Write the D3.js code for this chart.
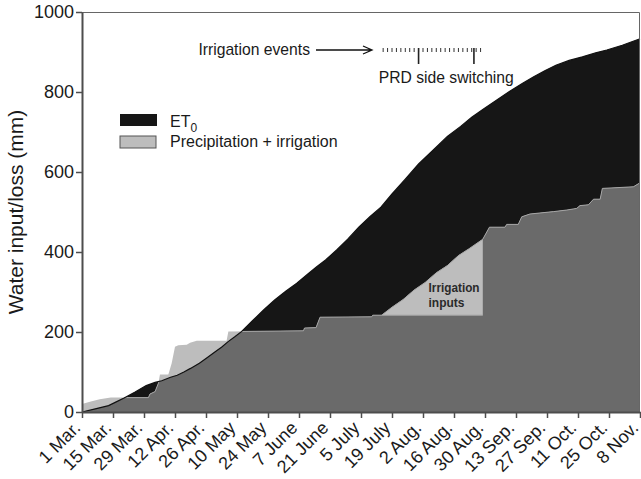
<!DOCTYPE html>
<html>
<head>
<meta charset="utf-8">
<script src="https://cdn.jsdelivr.net/npm/d3@7"></script>
<style>
    body { margin: 0; background: #fff; }
    svg { font-family: "Liberation Sans", Arial, sans-serif; }
    .axis text { font-size: 18px; fill: #1a1a1a; }
    .axis path, .axis line { stroke: #4d4d4d; }
</style>
</head>
<body>
<div id="chart"></div>
<script>

// days after 1 Mar. (start of the season)
const et0Days   = [0, 6, 12, 15, 19, 24, 29, 33, 36, 40, 43, 46, 49, 53, 56, 60, 63, 66, 69, 72,
                   77, 82, 87, 92, 97, 102, 106, 110, 115, 120, 125, 130, 135, 140, 146, 152, 159, 165, 171, 176,
                   181, 187, 193, 199, 204, 209, 214, 220, 226, 232, 237, 244, 252];
const et0Values = [0, 8, 16, 24, 35, 50, 66, 74, 78, 87, 92, 100, 109, 122, 134, 150, 162, 176, 188, 201,
                   228, 255, 280, 302, 322, 345, 363, 380, 405, 432, 462, 488, 512, 545, 582, 620, 657, 689, 714, 737,
                   756, 779, 801, 822, 838, 853, 867, 879, 888, 898, 905, 917, 933];

const piDays   = [0, 4, 8, 13, 30, 30.7, 33, 34.5, 35.2, 39, 40.5, 42, 43.5, 47.3, 48.8, 51.8, 65.3, 66.1, 100, 100.5,
                  105.7, 107.5, 130.8, 131.3, 135.3, 140, 145, 150, 155, 160, 165, 170, 175, 181, 184, 191, 191.8, 197, 198.6, 202.3,
                  213, 219, 223.4, 224.9, 228.7, 231, 234, 235, 249, 252];
const piValues = [20, 26, 32, 36, 36, 45, 51, 72, 94, 94, 122, 163, 167, 168, 173, 178, 178, 201, 203, 210,
                  211, 237, 238, 242, 242, 262, 281, 305, 324, 348, 366, 391, 409, 432, 462, 462, 469, 469, 488, 495,
                  501, 505, 509, 516, 518, 532, 532, 559, 563, 573];

// irrigation period (days) and events
const irrigStart = 135.3;
const irrigEnd = 181;
const irrigEventDays = [136, 138, 140, 142, 144, 146, 148, 150, 152, 154, 156, 158, 160, 162, 164, 166, 168, 170, 172, 174, 176, 178, 180];
const switchDays = [152, 177];

const tickDays   = [0, 14, 28, 42, 56, 70, 84, 98, 112, 126, 140, 154, 168, 182, 196, 210, 224, 238, 252];
const tickLabels = ["1 Mar.", "15 Mar.", "29 Mar.", "12 Apr.", "26 Apr.", "10 May", "24 May", "7 June", "21 June", "5 July",
                    "19 July", "2 Aug.", "16 Aug.", "30 Aug.", "13 Sep.", "27 Sep.", "11 Oct.", "25 Oct.", "8 Nov."];
const yTicks = [0, 200, 400, 600, 800, 1000];

const seasonStart = Date.UTC(2007, 2, 1);
let toDate = function(d) { return new Date(seasonStart + d * 864e5) };


class WaterVis {

    constructor(_parentElement) {
        this.parentElement = _parentElement;
        this.initVis();
    }

    initVis() {
        let vis = this;

        vis.margin = { top: 12, right: 1, bottom: 67, left: 82 };
        vis.width = 641 - vis.margin.left - vis.margin.right;
        vis.height = 479 - vis.margin.top - vis.margin.bottom;

        vis.svg = d3.select("#" + vis.parentElement).append("svg")
            .attr("width", 641)
            .attr("height", 479)
            .append("g")
            .attr("transform", "translate(" + vis.margin.left + "," + vis.margin.top + ")");

        vis.x = d3.scaleUtc()
            .domain([toDate(0), toDate(252)])
            .range([0, vis.width]);

        vis.y = d3.scaleLinear()
            .domain([0, 1000])
            .range([vis.height, 0]);

        vis.wrangleData();
    }

    wrangleData() {
        let vis = this;

        vis.et0 = et0Days.map((d, i) => ({ date: toDate(d), value: et0Values[i] }));
        vis.pi = piDays.map((d, i) => ({ date: toDate(d), day: d, value: piValues[i] }));

        // rain only level during the irrigation period
        vis.base = vis.pi.find(d => d.day >= irrigStart).value;
        vis.irrig = vis.pi.filter(d => d.day >= irrigStart && d.day <= irrigEnd);

        vis.updateVis();
    }

    updateVis() {
        let vis = this;

        let area = d3.area()
            .x(d => vis.x(d.date))
            .y0(vis.height)
            .y1(d => vis.y(d.value));

        let line = d3.line()
            .x(d => vis.x(d.date))
            .y(d => vis.y(d.value));

        vis.svg.append("defs")
            .append("clipPath")
            .attr("id", "et0-clip")
            .append("path")
            .attr("d", area(vis.et0));

        // ET0 (black)
        vis.svg.append("path")
            .attr("d", area(vis.et0))
            .attr("fill", "#161616");

        // precipitation + irrigation (light grey)
        vis.svg.append("path")
            .attr("d", area(vis.pi))
            .attr("fill", "#bdbdbd");

        // overlap (dark grey)
        vis.svg.append("path")
            .attr("d", area(vis.pi))
            .attr("clip-path", "url(#et0-clip)")
            .attr("fill", "#6a6a6a");

        // irrigation inputs wedge
        let wedge = d3.area()
            .x(d => vis.x(d.date))
            .y0(vis.y(vis.base))
            .y1(d => vis.y(d.value));

        vis.svg.append("path")
            .attr("d", wedge(vis.irrig))
            .attr("fill", "#bdbdbd");

        vis.svg.append("path")
            .attr("d", line(vis.pi))
            .attr("clip-path", "url(#et0-clip)")
            .attr("fill", "none")
            .attr("stroke", "#a5a5a5")
            .attr("stroke-width", 1);

        vis.svg.append("line")
            .attr("x1", vis.x(toDate(irrigStart)))
            .attr("x2", vis.x(toDate(irrigEnd)))
            .attr("y1", vis.y(vis.base))
            .attr("y2", vis.y(vis.base))
            .attr("stroke", "#a5a5a5");

        vis.svg.append("path")
            .attr("d", line(vis.et0))
            .attr("fill", "none")
            .attr("stroke", "#111")
            .attr("stroke-width", 1.2);

        // condensed bold label inside the wedge
        let ix = vis.x(toDate(156.5));
        vis.svg.append("text")
            .attr("x", ix)
            .attr("y", vis.y(299))
            .attr("font-weight", "bold")
            .attr("font-size", 13.5)
            .attr("fill", "#2a2a2a")
            .attr("textLength", 51)
            .attr("lengthAdjust", "spacingAndGlyphs")
            .text("Irrigation");
        vis.svg.append("text")
            .attr("x", ix)
            .attr("y", vis.y(299) + 15)
            .attr("font-weight", "bold")
            .attr("font-size", 13.5)
            .attr("fill", "#2a2a2a")
            .attr("textLength", 36)
            .attr("lengthAdjust", "spacingAndGlyphs")
            .text("inputs");

        // frame
        vis.svg.append("path")
            .attr("d", "M0,0.5H" + (vis.width - 0.5) + "V" + vis.height)
            .attr("fill", "none")
            .attr("stroke", "#666")
            .attr("stroke-width", 1);

        // axes
        vis.xAxis = d3.axisBottom(vis.x)
            .tickValues(tickDays.map(toDate))
            .tickFormat((d, i) => tickLabels[i])
            .tickSize(6)
            .tickSizeOuter(0);

        vis.yAxis = d3.axisLeft(vis.y)
            .tickValues(yTicks)
            .tickFormat(d3.format("d"))
            .tickSize(6)
            .tickSizeOuter(0);

        let xg = vis.svg.append("g")
            .attr("class", "x-axis axis")
            .attr("transform", "translate(0," + vis.height + ")")
            .call(vis.xAxis);
        xg.select(".domain").attr("stroke-width", 2);
        xg.selectAll(".tick line").attr("stroke-width", 1.5);
        xg.selectAll(".tick text")
            .attr("text-anchor", "end")
            .attr("dy", null)
            .attr("y", null)
            .attr("transform", "translate(-1,17) rotate(-45)");

        let yg = vis.svg.append("g")
            .attr("class", "y-axis axis")
            .call(vis.yAxis);
        yg.select(".domain").attr("stroke-width", 2);
        yg.selectAll(".tick line").attr("stroke-width", 1.5);
        yg.selectAll(".tick text").attr("x", -8);

        // axis title
        vis.svg.append("text")
            .attr("transform", "translate(" + (-59) + "," + (vis.height / 2) + ") rotate(-90)")
            .attr("text-anchor", "middle")
            .attr("font-size", 21)
            .attr("fill", "#1a1a1a")
            .text("Water input/loss (mm)");

        // legend
        let legend = vis.svg.append("g")
            .attr("transform", "translate(38,102)");
        legend.append("rect")
            .attr("width", 37).attr("height", 12)
            .attr("fill", "#161616");
        legend.append("rect")
            .attr("y", 22)
            .attr("width", 36).attr("height", 12)
            .attr("fill", "#bdbdbd")
            .attr("stroke", "#555");
        let et0Label = legend.append("text")
            .attr("x", 50).attr("y", 12.5)
            .attr("font-size", 16)
            .attr("fill", "#1a1a1a");
        et0Label.append("tspan").text("ET");
        et0Label.append("tspan").attr("dy", 5).attr("font-size", 12).text("0");
        legend.append("text")
            .attr("x", 50).attr("y", 33)
            .attr("font-size", 16)
            .attr("fill", "#1a1a1a")
            .text("Precipitation + irrigation");

        // irrigation event annotation
        let ann = vis.svg.append("g");
        let ay = 38;
        ann.append("text")
            .attr("x", 228).attr("y", ay + 5)
            .attr("text-anchor", "end")
            .attr("font-size", 15.7)
            .attr("fill", "#1a1a1a")
            .text("Irrigation events");
        ann.append("path")
            .attr("d", "M234," + ay + "H289M281," + (ay - 4) + "L290," + ay + "L281," + (ay + 4))
            .attr("fill", "none")
            .attr("stroke", "#111")
            .attr("stroke-width", 1.3);
        ann.selectAll(".event")
            .data(irrigEventDays)
            .enter().append("line")
            .attr("class", "event")
            .attr("x1", d => vis.x(toDate(d)))
            .attr("x2", d => vis.x(toDate(d)))
            .attr("y1", ay - 2)
            .attr("y2", ay + 2)
            .attr("stroke", "#333")
            .attr("stroke-width", 1);
        ann.selectAll(".switch")
            .data(switchDays)
            .enter().append("line")
            .attr("class", "switch")
            .attr("x1", d => vis.x(toDate(d)))
            .attr("x2", d => vis.x(toDate(d)))
            .attr("y1", ay - 2)
            .attr("y2", ay + 14)
            .attr("stroke", "#222")
            .attr("stroke-width", 1.6);
        ann.append("text")
            .attr("x", vis.x(toDate(164.5)))
            .attr("y", ay + 33)
            .attr("text-anchor", "middle")
            .attr("font-size", 15.7)
            .attr("fill", "#1a1a1a")
            .text("PRD side switching");
    }
}

new WaterVis("chart");

</script>
</body>
</html>
